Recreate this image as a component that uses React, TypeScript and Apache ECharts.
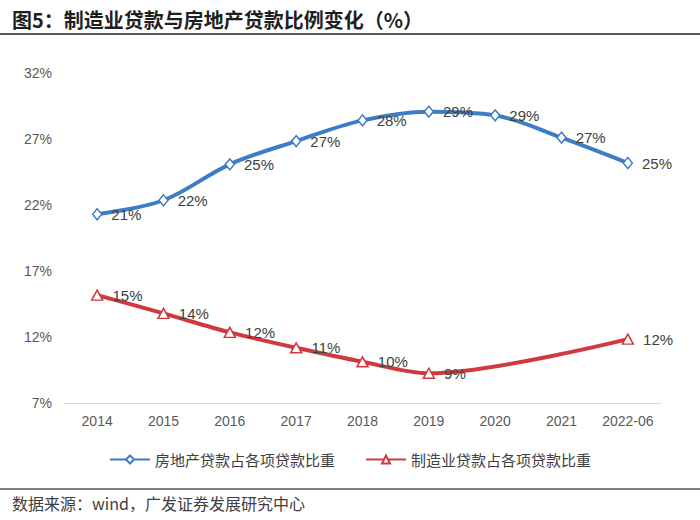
import React, { useEffect, useRef } from "react";
import * as echarts from "echarts";

const categories = ["2014", "2015", "2016", "2017", "2018", "2019", "2020", "2021", "2022-06"];
const realEstateShare = [21.3, 22.36, 25.08, 26.84, 28.41, 29.07, 28.79, 27.1, 25.18];
const manufacturingShare = [15.17, 13.79, 12.35, 11.18, 10.12, 9.25, null, null, 11.84];
const seriesNames = ["房地产贷款占各项贷款比重", "制造业贷款占各项贷款比重"];
const yMin = 7;
const yMax = 32;
const yLabelStep = 5;

const titleText = "图5：制造业贷款与房地产贷款比例变化（%）";
const sourceText = "数据来源：wind，广发证券发展研究中心";

const LATIN = '"Liberation Sans", Arial, sans-serif';
const CJK = '"Noto Sans CJK SC", "Liberation Sans", sans-serif';

export default function App() {
  const ref = useRef<HTMLDivElement>(null);
  useEffect(() => {
    if (!ref.current) return;
    const chart = echarts.init(ref.current, null, { renderer: "svg" });
    const labelCfg = {
      show: true,
      position: "right",
      distance: 9,
      color: "#404040",
      fontSize: 15,
      fontFamily: LATIN,
      formatter: (p: any) => Math.round(p.value) + "%",
    };
    chart.setOption({
      animation: false,
      backgroundColor: "#ffffff",
      grid: { left: 64, right: 39, top: 73, bottom: 117, containLabel: false },
      xAxis: {
        type: "category",
        data: categories,
        boundaryGap: true,
        axisTick: { show: false },
        axisLine: { show: true, lineStyle: { color: "#D9D9D9", width: 1 } },
        axisLabel: { color: "#595959", fontSize: 14, fontFamily: LATIN, margin: 11, interval: 0 },
        splitLine: { show: false },
      },
      yAxis: {
        type: "value",
        min: yMin,
        max: yMax,
        interval: 1,
        axisLine: { show: false },
        axisTick: { show: false },
        splitLine: { show: false },
        axisLabel: {
          color: "#595959",
          fontSize: 14,
          fontFamily: LATIN,
          margin: 12,
          formatter: (v: number) => ((v - yMin) % yLabelStep === 0 ? v + "%" : ""),
        },
      },
      legend: {
        top: 447,
        left: "center",
        itemWidth: 40,
        itemHeight: 10,
        itemGap: 30,
        textStyle: { color: "#404040", fontSize: 15, fontFamily: CJK },
        data: seriesNames,
      },
      series: [
        {
          name: seriesNames[0],
          type: "line",
          data: realEstateShare,
          smooth: 0.35,
          symbol: "diamond",
          symbolSize: [9, 11],
          lineStyle: { color: "#3D7DC6", width: 4 },
          itemStyle: { color: "#ffffff", borderColor: "#3D7DC6", borderWidth: 1.5 },
          label: labelCfg,
          z: 3,
        },
        {
          name: seriesNames[1],
          type: "line",
          data: manufacturingShare,
          connectNulls: true,
          smooth: 0.3,
          symbol: "triangle",
          symbolSize: [11, 10],
          lineStyle: { color: "#D03A3F", width: 4 },
          itemStyle: { color: "#ffffff", borderColor: "#D03A3F", borderWidth: 1.5 },
          label: labelCfg,
          z: 3,
        },
      ],
      graphic: [
        {
          type: "text",
          left: 12,
          top: 9,
          style: {
            text: titleText,
            fontSize: 20,
            fontWeight: "bold",
            fontFamily: CJK,
            fill: "#1f1f1f",
          },
        },
        {
          type: "line",
          shape: { x1: 0, y1: 34, x2: 700, y2: 34 },
          style: { stroke: "#595959", lineWidth: 2 },
        },
        {
          type: "line",
          shape: { x1: 0, y1: 489, x2: 700, y2: 489 },
          style: { stroke: "#595959", lineWidth: 1.5 },
        },
        {
          type: "text",
          left: 12,
          top: 495,
          style: {
            text: sourceText,
            fontSize: 16,
            fontFamily: CJK,
            fill: "#404040",
          },
        },
      ],
    });
    return () => chart.dispose();
  }, []);
  return (
    <div
      ref={ref}
      style={{ position: "fixed", left: 0, top: 0, width: 700, height: 520, background: "#fff" }}
    />
  );
}
